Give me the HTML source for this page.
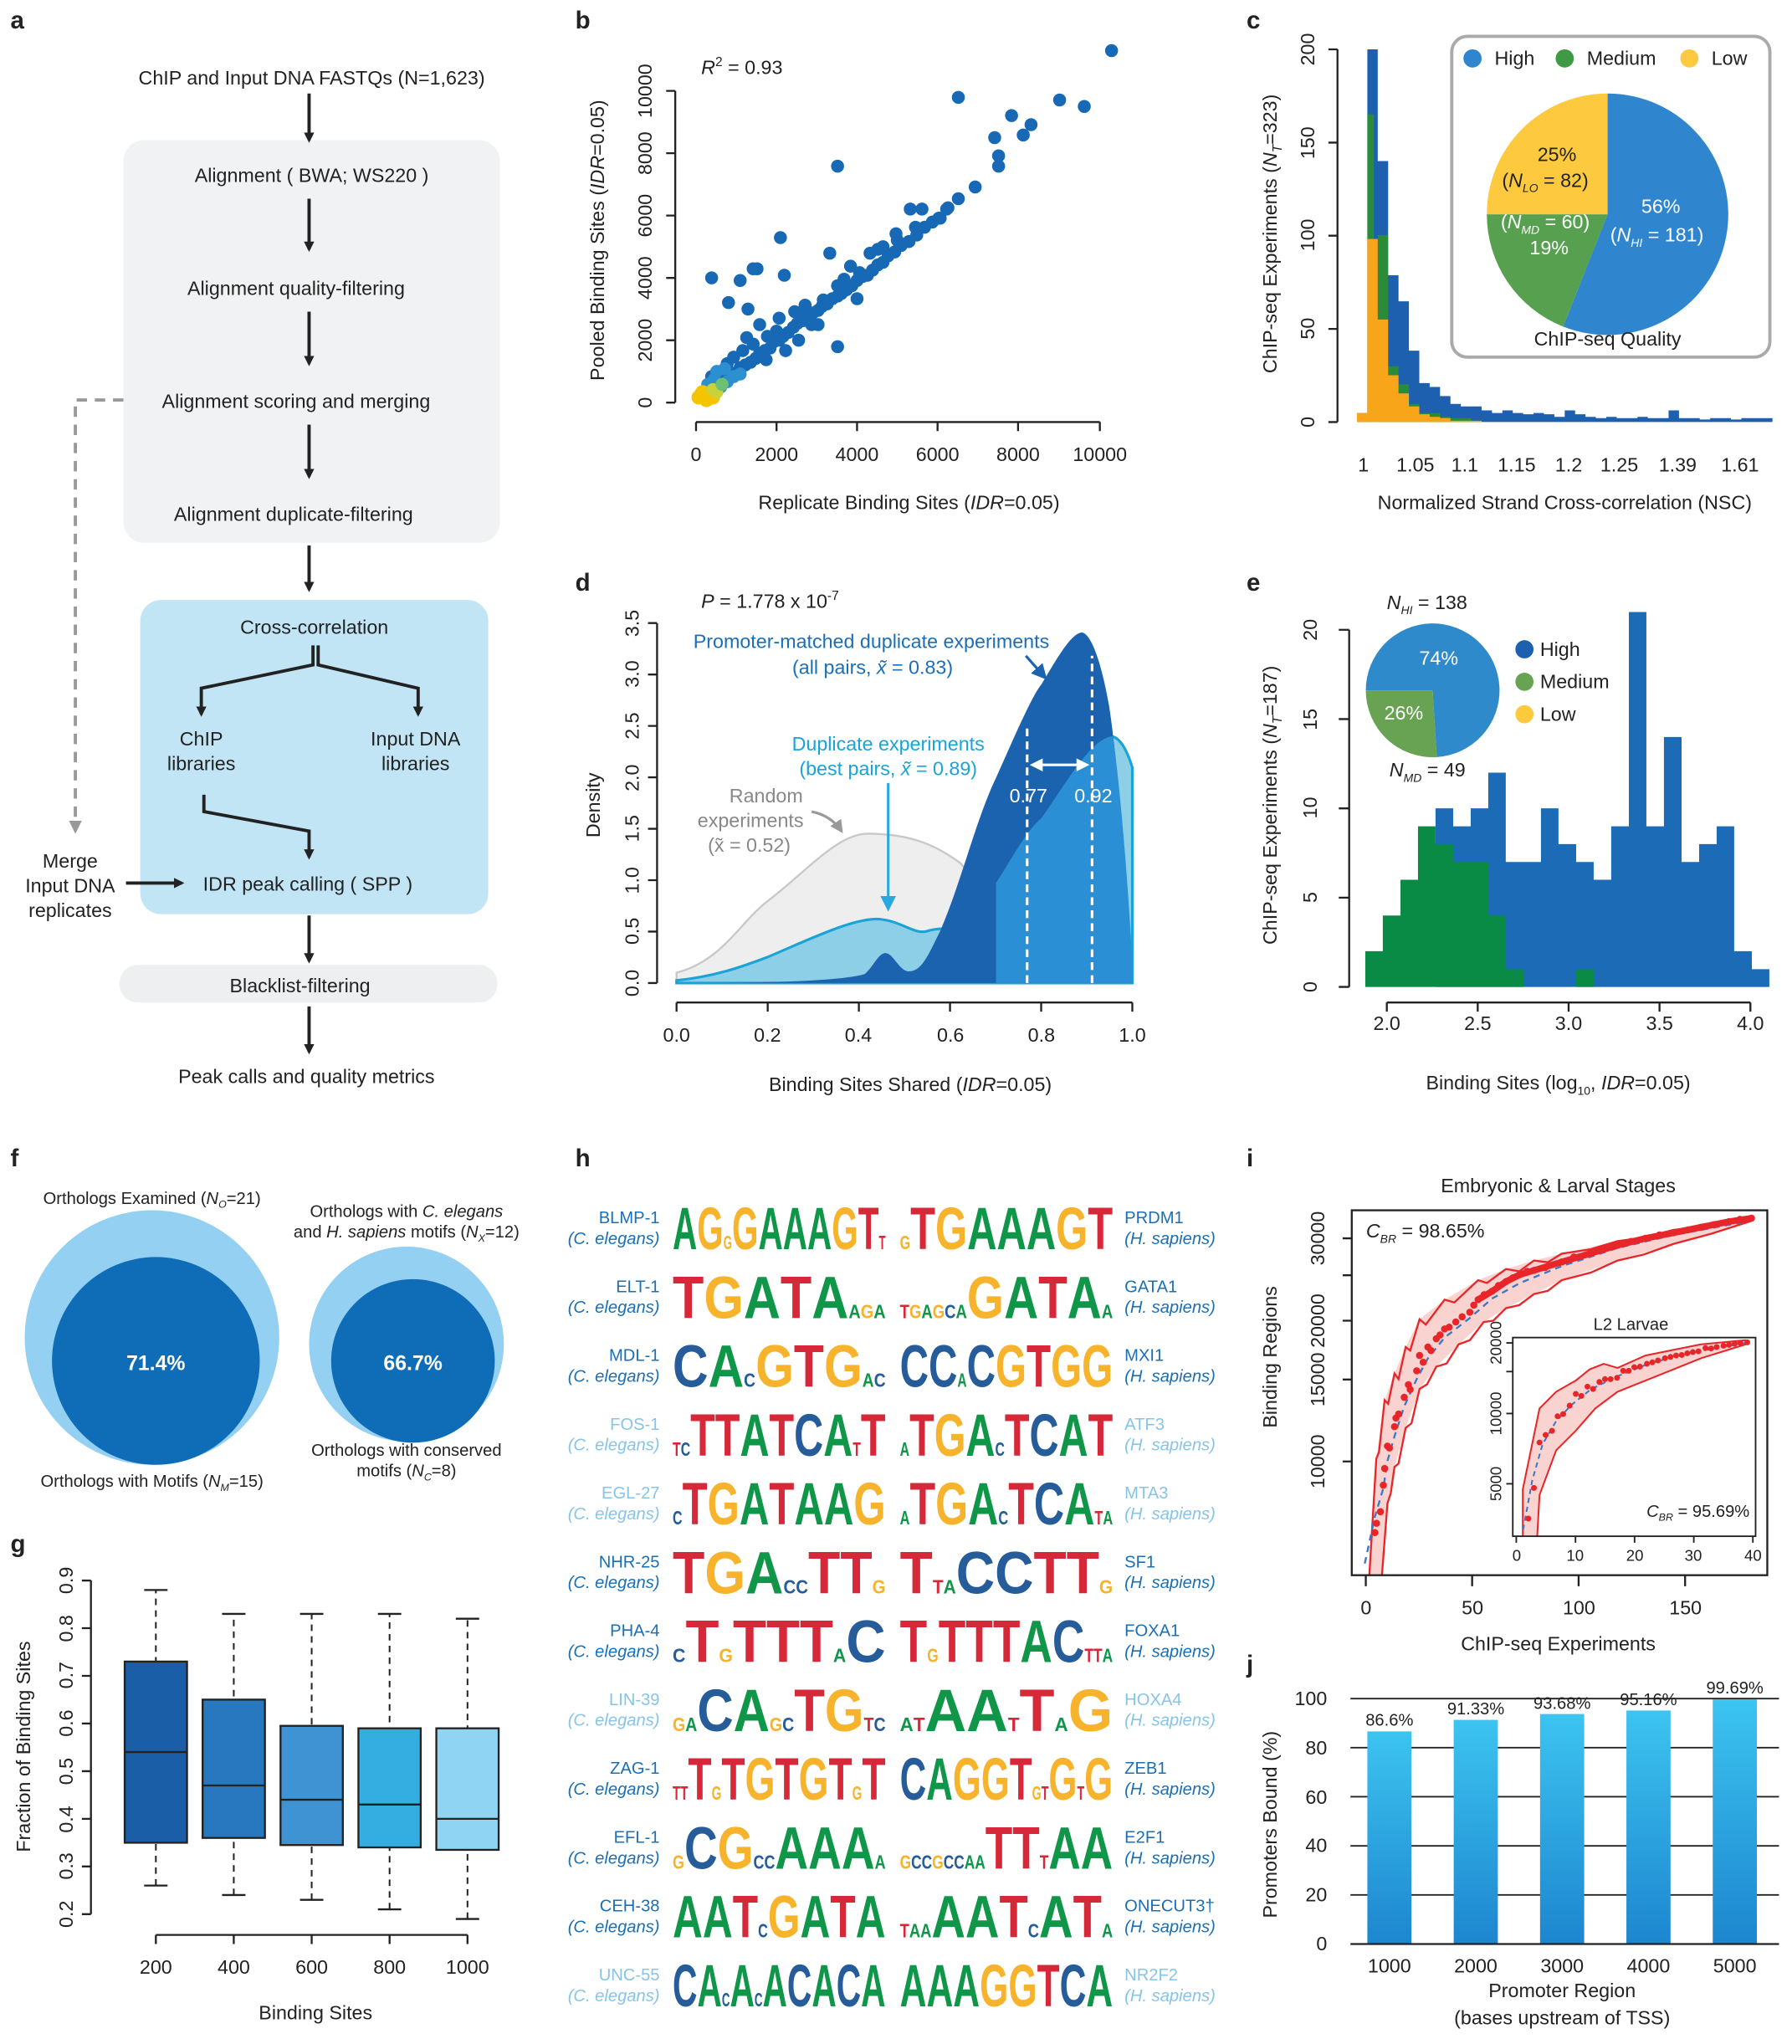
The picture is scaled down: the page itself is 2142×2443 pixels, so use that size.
<!DOCTYPE html>
<html><head><meta charset="utf-8"><style>
html,body{margin:0;padding:0;background:#fff}
svg{display:block}
text{font-family:"Liberation Sans",Arial,sans-serif;fill:#222}
.pl{font-weight:bold;font-size:19px}
.t{font-size:15px}
.w{fill:#fff}
.lg{font-weight:bold;font-size:46px}
.A{fill:#109648}.C{fill:#255c99}.G{fill:#f7b32b}.T{fill:#d62839}
.a{fill:#109648;font-size:15px}.c{fill:#255c99;font-size:15px}.g{fill:#f7b32b;font-size:15px}.t2{fill:#d62839;font-size:15px}
.dk{fill:#1a6fb5}.lt{fill:#86c4e8}
.rl{font-size:13px}
</style></head><body>
<svg xmlns="http://www.w3.org/2000/svg" width="2142" height="2443" viewBox="0 0 1380 1574">
<defs>
<marker id="ar" markerWidth="8" markerHeight="8" refX="6" refY="4" orient="auto" markerUnits="userSpaceOnUse"><path d="M0,0 L8,4 L0,8 Z" fill="#222"/></marker>
<marker id="arg" markerWidth="10" markerHeight="10" refX="8" refY="5" orient="auto" markerUnits="userSpaceOnUse"><path d="M0,0 L10,5 L0,10 Z" fill="#999"/></marker>
<marker id="arb" markerWidth="12" markerHeight="12" refX="10" refY="6" orient="auto" markerUnits="userSpaceOnUse"><path d="M0,0 L12,6 L0,12 Z" fill="#1a64b0"/></marker>
<marker id="arc" markerWidth="12" markerHeight="12" refX="10" refY="6" orient="auto" markerUnits="userSpaceOnUse"><path d="M0,0 L12,6 L0,12 Z" fill="#29a8e0"/></marker>
<marker id="arw" markerWidth="10" markerHeight="10" refX="8" refY="5" orient="auto-start-reverse" markerUnits="userSpaceOnUse"><path d="M0,0 L10,5 L0,10 Z" fill="#fff"/></marker>
<linearGradient id="jg" x1="0" y1="1" x2="0" y2="0"><stop offset="0" stop-color="#1d86cf"/><stop offset="1" stop-color="#3cc4f0"/></linearGradient>
</defs>

<!-- PANEL A -->
<text class="pl" x="8" y="22">a</text>
<g class="t" text-anchor="middle">
<text x="240" y="65">ChIP and Input DNA FASTQs (N=1,623)</text>
<rect x="95" y="108" width="290" height="310" rx="16" fill="#f1f2f3"/>
<text x="240" y="140">Alignment (  BWA; WS220 )</text>
<text x="228" y="227">Alignment quality-filtering</text>
<text x="228" y="314">Alignment scoring and merging</text>
<text x="226" y="401">Alignment duplicate-filtering</text>
<rect x="108" y="462" width="268" height="242" rx="16" fill="#c1e5f5"/>
<text x="242" y="488">Cross-correlation</text>
<text x="155" y="574">ChIP</text><text x="155" y="593">libraries</text>
<text x="320" y="574">Input DNA</text><text x="320" y="593">libraries</text>
<text x="237" y="686">IDR peak calling ( SPP )</text>
<text x="54" y="668">Merge</text><text x="54" y="687">Input DNA</text><text x="54" y="706">replicates</text>
<rect x="92" y="743" width="291" height="29" rx="14" fill="#eeeff0"/>
<text x="231" y="764">Blacklist-filtering</text>
<text x="236" y="834">Peak calls and quality metrics</text>
</g>
<g stroke="#222" stroke-width="2.5" fill="none" marker-end="url(#ar)">
<line x1="238" y1="72" x2="238" y2="108"/>
<line x1="238" y1="153" x2="238" y2="192"/>
<line x1="238" y1="240" x2="238" y2="280"/>
<line x1="238" y1="327" x2="238" y2="367"/>
<line x1="238" y1="420" x2="238" y2="454"/>
<polyline points="241,497 241,512 155,530 155,550"/>
<polyline points="245,497 245,512 322,530 322,550"/>
<polyline points="157,612 157,625 238,640 238,660"/>
<line x1="97" y1="680" x2="140" y2="680"/>
<line x1="238" y1="705" x2="238" y2="740"/>
<line x1="238" y1="775" x2="238" y2="810"/>
</g>
<polyline points="95,308 58,308 58,640" stroke="#999" stroke-width="2.5" stroke-dasharray="8,6" fill="none" marker-end="url(#arg)"/>

<!-- PANEL B -->
<text class="pl" x="443" y="22">b</text>
<path stroke="#1769b5" stroke-width="10" stroke-linecap="round" fill="none" d="M540 303h0M548 297h0M556 292h0M563 287h0M566 288h0M570 283h0M574 281h0M578 279h0M582 276h0M585 272h0M589 270h0M593 268h0M596 263h0M600 262h0M603 259h0M607 256h0M611 252h0M614 249h0M618 247h0M622 246h0M626 241h0M630 239h0M633 236h0M637 234h0M641 230h0M645 228h0M648 226h0M652 223h0M656 220h0M660 216h0M664 213h0M668 212h0M672 208h0M676 204h0M680 202h0M684 197h0M689 194h0M694 189h0M700 186h0M706 181h0M712 175h0M718 171h0M724 168h0M730 160h0M738 153h0M548 290h0M560 280h0M572 270h0M590 277h0M605 270h0M615 262h0M630 250h0M645 220h0M660 230h0M575 260h0M585 250h0M620 235h0M600 245h0M655 205h0M690 180h0M705 175h0M680 190h0M650 215h0M625 250h0M612 240h0M598 255h0M565 275h0M580 265h0M856 39h0M738 75h0M816 77h0M835 82h0M779 89h0M788 104h0M794 96h0M645 128h0M766 106h0M769 120h0M769 128h0M710 161h0M701 161h0M580 207h0M583 207h0M570 216h0M548 214h0M601 183h0M645 267h0M604 212h0M723 168h0M707 176h0M670 195h0M576 238h0M639 195h0M561 233h0M729 161h0M676 192h0M691 185h0M751 144h0M591 259h0M618 243h0M634 231h0M662 210h0"/>
<path stroke="#2b8fd0" stroke-width="10" stroke-linecap="round" fill="none" d="M545 296h0M550 292h0M555 298h0M560 294h0M565 290h0M570 288h0M552 286h0M558 284h0"/>
<path stroke="#f5c400" stroke-width="11" stroke-linecap="round" fill="none" d="M538 306h0M542 305h0M541 302h0M546 303h0M544 308h0M549 306h0"/>
<path stroke="#c9d23a" stroke-width="10" stroke-linecap="round" fill="none" d="M549 300h0M552 302h0"/>
<path stroke="#6dc072" stroke-width="10" stroke-linecap="round" fill="none" d="M556 296h0"/>
<g stroke="#222" stroke-width="1.5">
<line x1="536" y1="325" x2="847" y2="325"/>
<line x1="520" y1="310" x2="520" y2="70"/>
<path d="M536 325v7M598 325v7M660 325v7M722 325v7M784 325v7M847 325v7M520 310h-7M520 262h-7M520 214h-7M520 166h-7M520 118h-7M520 70h-7"/>
</g>
<g class="t" text-anchor="middle">
<text x="536" y="355">0</text><text x="598" y="355">2000</text><text x="660" y="355">4000</text><text x="722" y="355">6000</text><text x="784" y="355">8000</text><text x="847" y="355">10000</text>
<text transform="translate(502,310) rotate(-90)">0</text><text transform="translate(502,262) rotate(-90)">2000</text><text transform="translate(502,214) rotate(-90)">4000</text><text transform="translate(502,166) rotate(-90)">6000</text><text transform="translate(502,118) rotate(-90)">8000</text><text transform="translate(502,70) rotate(-90)">10000</text>
</g>
<text x="540" y="57" font-size="15"><tspan font-style="italic">R</tspan><tspan font-size="10" dy="-6">2</tspan><tspan dy="6"> = 0.93</tspan></text>
<text x="700" y="392" class="t" text-anchor="middle">Replicate Binding Sites (<tspan font-style="italic">IDR</tspan>=0.05)</text>
<text transform="translate(465,185) rotate(-90)" class="t" text-anchor="middle">Pooled Binding Sites (<tspan font-style="italic">IDR</tspan>=0.05)</text>

<!-- PANEL C -->
<text class="pl" x="960" y="22">c</text>
<path fill="#1d60b0" d="M1045,325 V318 H1053 V38 H1061 V124 H1069 V212 H1077 V232 H1085 V270 H1093 V295 H1101 V298 H1109 V305 H1117 V311 H1125 V313 H1141 V316 H1149 V318 H1157 V316 H1165 V318 H1173 V319 H1181 V318 H1189 V319 H1197 V321 H1205 V316 H1213 V319 H1221 V321 H1229 V322 H1237 V321 H1245 V322 H1261 V321 H1269 V322 H1285 V316 H1293 V322 H1309 V323 H1317 V322 H1333 V323 H1341 V322 H1365 V325 Z"/>
<path fill="#2a8c3a" d="M1045,325 V321 H1053 V88 H1058 V325 Z M1061,325 V181 H1069 V282 H1077 V296 H1085 V311 H1093 V318 H1109 V321 H1117 V322 H1133 V324 H1141 V325 Z"/>
<path fill="#f9a51a" d="M1045,325 V318 H1053 V184 H1061 V246 H1069 V289 H1077 V303 H1085 V313 H1093 V319 H1101 V321 H1109 V322 H1117 V324 H1141 V325 Z"/>
<line x1="1030" y1="325" x2="1030" y2="38" stroke="#222" stroke-width="1.5"/>
<path stroke="#222" stroke-width="1.5" d="M1030 325h-7M1030 253.3h-7M1030 181.5h-7M1030 109.8h-7M1030 38h-7"/>
<g class="t" text-anchor="middle">
<text transform="translate(1012,325) rotate(-90)">0</text><text transform="translate(1012,253) rotate(-90)">50</text><text transform="translate(1012,181) rotate(-90)">100</text><text transform="translate(1012,110) rotate(-90)">150</text><text transform="translate(1012,38) rotate(-90)">200</text>
<text x="1050" y="363">1</text><text x="1090" y="363">1.05</text><text x="1128" y="363">1.1</text><text x="1168" y="363">1.15</text><text x="1208" y="363">1.2</text><text x="1247" y="363">1.25</text><text x="1292" y="363">1.39</text><text x="1340" y="363">1.61</text>
</g>
<text x="1205" y="392" class="t" text-anchor="middle">Normalized Strand Cross-correlation (NSC)</text>
<text transform="translate(983,180) rotate(-90)" class="t" text-anchor="middle">ChIP-seq Experiments (<tspan font-style="italic">N</tspan><tspan font-size="10" dy="4" font-style="italic">T</tspan><tspan dy="-4">=323)</tspan></text>
<rect x="1118" y="28" width="245" height="247" rx="12" fill="#fff" stroke="#aaa" stroke-width="2.5"/>
<path d="M1238,165 L1238,72 A93,93 0 1 1 1203.8,251.5 Z" fill="#2f86cf"/>
<path d="M1238,165 L1203.8,251.5 A93,93 0 0 1 1145,165 Z" fill="#56a050"/>
<path d="M1238,165 L1145,165 A93,93 0 0 1 1238,72 Z" fill="#fcc93f"/>
<g font-size="15">
<circle cx="1134" cy="45" r="7" fill="#2f86cf"/><text x="1151" y="50">High</text>
<circle cx="1205" cy="45" r="7" fill="#3e9a45"/><text x="1222" y="50">Medium</text>
<circle cx="1301" cy="45" r="7" fill="#fcc93f"/><text x="1318" y="50">Low</text>
</g>
<g font-size="15" text-anchor="middle">
<text x="1199" y="124">25%</text><text x="1190" y="144">(<tspan font-style="italic">N</tspan><tspan font-size="9" dy="4" font-style="italic">LO</tspan><tspan dy="-4"> = 82)</tspan></text>
<text class="w" x="1190" y="176">(<tspan class="w" font-style="italic">N</tspan><tspan class="w" font-size="9" dy="4" font-style="italic">MD</tspan><tspan class="w" dy="-4"> = 60)</tspan></text>
<text class="w" x="1193" y="196">19%</text>
<text class="w" x="1279" y="164">56%</text>
<text class="w" x="1276" y="186">(<tspan class="w" font-style="italic">N</tspan><tspan class="w" font-size="9" dy="4" font-style="italic">HI</tspan><tspan class="w" dy="-4"> = 181)</tspan></text>
<text x="1238" y="266">ChIP-seq Quality</text>
</g>

<!-- PANEL D -->
<text class="pl" x="443" y="455">d</text>
<path d="M521,757 L521,749 C556,740 570,710 591,694 C620,672 645,642 668,642 C700,642 720,650 740,665 C760,690 780,720 802,753 L802,757 Z" fill="#eeeeee" stroke="#c8c8c8" stroke-width="1.5"/>
<path d="M521,757 L521,755 C550,752 570,745 591,737 C620,725 660,705 679,708 C695,710 705,720 714,717 C730,712 740,720 749,710 C770,690 785,650 802,630 C820,605 840,568 854,567 C862,566 868,578 872,591 L872,757 Z" fill="#8ccfe6" stroke="#1aa3d8" stroke-width="2"/>
<path d="M521,757 C600,757 650,755 666,750 C672,745 676,735 681,734 C688,733 692,748 700,748 C710,748 715,735 724,717 C740,680 752,630 767,599 C780,570 795,535 802,527 C815,505 825,488 833,487 C842,488 850,520 854,543 C860,580 866,660 872,740 L872,757 Z" fill="#1b63ae"/>
<path d="M767,757 L767,680 C780,660 790,640 802,630 C820,605 840,568 857,567 C862,600 868,670 872,740 L872,757 Z" fill="#2a8fd4"/>
<line x1="791" y1="757" x2="791" y2="560" stroke="#fff" stroke-width="2" stroke-dasharray="6,4"/>
<line x1="841" y1="757" x2="841" y2="505" stroke="#fff" stroke-width="2" stroke-dasharray="6,4"/>
<line x1="795" y1="589" x2="837" y2="589" stroke="#fff" stroke-width="2" marker-start="url(#arw)" marker-end="url(#arw)"/>
<text class="w" x="792" y="618" font-size="15" text-anchor="middle">0.77</text>
<text class="w" x="842" y="618" font-size="15" text-anchor="middle">0.92</text>
<line x1="506" y1="757" x2="506" y2="480" stroke="#222" stroke-width="1.5"/>
<line x1="521" y1="772" x2="872" y2="772" stroke="#222" stroke-width="1.5"/>
<path stroke="#222" stroke-width="1.5" d="M506 757h-7M506 717.4h-7M506 677.8h-7M506 638.2h-7M506 598.6h-7M506 559h-7M506 519.4h-7M506 479.8h-7M521 772v7M591.2 772v7M661.4 772v7M731.6 772v7M801.8 772v7M872 772v7"/>
<g class="t" text-anchor="middle">
<text transform="translate(492,757) rotate(-90)">0.0</text><text transform="translate(492,717) rotate(-90)">0.5</text><text transform="translate(492,678) rotate(-90)">1.0</text><text transform="translate(492,638) rotate(-90)">1.5</text><text transform="translate(492,599) rotate(-90)">2.0</text><text transform="translate(492,559) rotate(-90)">2.5</text><text transform="translate(492,519) rotate(-90)">3.0</text><text transform="translate(492,480) rotate(-90)">3.5</text>
<text x="521" y="802">0.0</text><text x="591" y="802">0.2</text><text x="661" y="802">0.4</text><text x="732" y="802">0.6</text><text x="802" y="802">0.8</text><text x="872" y="802">1.0</text>
</g>
<text x="540" y="468" font-size="15"><tspan font-style="italic">P</tspan> = 1.778 x 10<tspan font-size="10" dy="-6">-7</tspan></text>
<text x="671" y="499" font-size="15" text-anchor="middle" style="fill:#1b6fb8">Promoter-matched duplicate experiments</text>
<text x="672" y="519" font-size="15" text-anchor="middle" style="fill:#1b6fb8">(all pairs, <tspan style="fill:#1b6fb8" font-style="italic">x̃</tspan> = 0.83)</text>
<text x="684" y="578" font-size="15" text-anchor="middle" style="fill:#1aa3d8">Duplicate experiments</text>
<text x="684" y="597" font-size="15" text-anchor="middle" style="fill:#1aa3d8">(best pairs, <tspan style="fill:#1aa3d8" font-style="italic">x̃</tspan> = 0.89)</text>
<g font-size="15" text-anchor="middle">
<text x="590" y="618" style="fill:#888">Random</text><text x="578" y="637" style="fill:#888">experiments</text><text x="577" y="656" style="fill:#888">(x̃ = 0.52)</text></g>
<line x1="790" y1="505" x2="805" y2="522" stroke="#1a64b0" stroke-width="2" marker-end="url(#arb)"/>
<line x1="684" y1="603" x2="684" y2="700" stroke="#29a8e0" stroke-width="2" marker-end="url(#arc)"/>
<path d="M625,625 Q640,628 648,640" stroke="#999" stroke-width="2" fill="none" marker-end="url(#arg)"/>
<text x="701" y="840" class="t" text-anchor="middle">Binding Sites Shared (<tspan font-style="italic">IDR</tspan>=0.05)</text>
<text transform="translate(462,620) rotate(-90)" class="t" text-anchor="middle">Density</text>

<!-- PANEL E -->
<text class="pl" x="960" y="455">e</text>
<path fill="#1b6bb6" d="M1105.5,760 V622.5 H1119.1 V636.3 H1132.6 V622.5 H1146.1 V595 H1159.6 V663.8 H1186.7 V622.5 H1200.2 V650 H1213.8 V663.8 H1227.3 V677.5 H1240.8 V636.3 H1254.4 V471.3 H1267.9 V636.3 H1281.4 V567.5 H1295 V663.8 H1308.5 V650 H1322 V636.3 H1335.5 V732.5 H1349.1 V746.3 H1362.6 V760 Z"/>
<path fill="#098a45" d="M1051.4,760 V732.5 H1064.9 V705 H1078.5 V677.5 H1092 V636.3 H1105.5 V650 H1119.1 V663.8 H1146.1 V705 H1159.6 V746.3 H1173.2 V760 Z M1213.8,760 V746.3 H1227.3 V760 Z"/>
<line x1="1039" y1="760" x2="1039" y2="485" stroke="#222" stroke-width="1.5"/>
<line x1="1068" y1="772" x2="1348" y2="772" stroke="#222" stroke-width="1.5"/>
<path stroke="#222" stroke-width="1.5" d="M1039 760h-8M1039 691.25h-8M1039 622.5h-8M1039 553.75h-8M1039 485h-8M1068 772v7M1138 772v7M1208 772v7M1278 772v7M1348 772v7"/>
<g class="t" text-anchor="middle">
<text transform="translate(1014,760) rotate(-90)">0</text><text transform="translate(1014,691) rotate(-90)">5</text><text transform="translate(1014,622) rotate(-90)">10</text><text transform="translate(1014,554) rotate(-90)">15</text><text transform="translate(1014,485) rotate(-90)">20</text>
<text x="1068" y="793">2.0</text><text x="1138" y="793">2.5</text><text x="1208" y="793">3.0</text><text x="1278" y="793">3.5</text><text x="1348" y="793">4.0</text>
</g>
<path d="M1103.3,531.6 L1051.8,531.6 A51.5,51.5 0 1 1 1106.5,583 Z" fill="#2f8acc"/>
<path d="M1103.3,531.6 L1106.5,583 A51.5,51.5 0 0 1 1051.8,531.6 Z" fill="#68a253"/>
<text class="w" x="1108" y="512" font-size="15" text-anchor="middle">74%</text>
<text class="w" x="1081" y="554" font-size="15" text-anchor="middle">26%</text>
<text x="1068" y="469" font-size="15"><tspan font-style="italic">N</tspan><tspan font-size="9" dy="4" font-style="italic">HI</tspan><tspan dy="-4"> = 138</tspan></text>
<text x="1070" y="598" font-size="15"><tspan font-style="italic">N</tspan><tspan font-size="9" dy="4" font-style="italic">MD</tspan><tspan dy="-4"> = 49</tspan></text>
<g font-size="15">
<circle cx="1174" cy="500" r="7" fill="#1d60b0"/><text x="1186" y="505">High</text>
<circle cx="1174" cy="525" r="7" fill="#68a253"/><text x="1186" y="530">Medium</text>
<circle cx="1174" cy="550" r="7" fill="#fcc93f"/><text x="1186" y="555">Low</text>
</g>
<text x="1200" y="839" class="t" text-anchor="middle">Binding Sites (log<tspan font-size="9" dy="4">10</tspan><tspan dy="-4">, </tspan><tspan font-style="italic">IDR</tspan>=0.05)</text>
<text transform="translate(983,620) rotate(-90)" class="t" text-anchor="middle">ChIP-seq Experiments (<tspan font-style="italic">N</tspan><tspan font-size="10" dy="4" font-style="italic">T</tspan><tspan dy="-4">=187)</tspan></text>

<!-- PANEL F -->
<text class="pl" x="8" y="898">f</text>
<circle cx="117" cy="1030" r="98" fill="#93d0f1"/>
<circle cx="120" cy="1048" r="80" fill="#0f6db8"/>
<circle cx="313" cy="1035" r="75" fill="#93d0f1"/>
<circle cx="318" cy="1048" r="63" fill="#0f6db8"/>
<text class="w" x="120" y="1055" font-size="16" font-weight="bold" text-anchor="middle">71.4%</text>
<text class="w" x="318" y="1055" font-size="16" font-weight="bold" text-anchor="middle">66.7%</text>
<g font-size="13" text-anchor="middle">
<text x="117" y="927">Orthologs Examined (<tspan font-style="italic">N</tspan><tspan font-size="8" dy="3" font-style="italic">O</tspan><tspan dy="-3">=21)</tspan></text>
<text x="117" y="1145">Orthologs with Motifs (<tspan font-style="italic">N</tspan><tspan font-size="8" dy="3" font-style="italic">M</tspan><tspan dy="-3">=15)</tspan></text>
<text x="313" y="937">Orthologs with <tspan font-style="italic">C. elegans</tspan></text>
<text x="313" y="953">and <tspan font-style="italic">H. sapiens</tspan> motifs (<tspan font-style="italic">N</tspan><tspan font-size="8" dy="3" font-style="italic">X</tspan><tspan dy="-3">=12)</tspan></text>
<text x="313" y="1121">Orthologs with conserved</text>
<text x="313" y="1137">motifs (<tspan font-style="italic">N</tspan><tspan font-size="8" dy="3" font-style="italic">C</tspan><tspan dy="-3">=8)</tspan></text>
</g>

<!-- PANEL G -->
<text class="pl" x="8" y="1195">g</text>
<g stroke="#222" stroke-width="1.3" stroke-dasharray="5,4">
<path d="M120 1452V1224.4M180 1459.3V1242.8M240 1463V1242.8M300 1470.3V1242.8M360 1477.7V1246.5"/>
</g>
<g stroke="#222" stroke-width="1.5">
<path d="M111 1452h18M111 1224.4h18M171 1459.3h18M171 1242.8h18M231 1463h18M231 1242.8h18M291 1470.3h18M291 1242.8h18M351 1477.7h18M351 1246.5h18"/>
<rect x="96" y="1279.5" width="48" height="139.5" fill="#1a5ea8"/>
<rect x="156" y="1308.8" width="48" height="106.5" fill="#2878c0"/>
<rect x="216" y="1329" width="48" height="91.8" fill="#3f93d2"/>
<rect x="276" y="1330.9" width="48" height="91.7" fill="#34ade0"/>
<rect x="336" y="1330.9" width="48" height="93.6" fill="#8fd4f3"/>
<path d="M96 1349.2h48M156 1374.9h48M216 1385.9h48M276 1389.6h48M336 1400.6h48"/>
<line x1="70" y1="1474" x2="70" y2="1217"/>
<line x1="120" y1="1490" x2="360" y2="1490"/>
<path d="M70 1474h-7M70 1437.3h-7M70 1400.6h-7M70 1363.9h-7M70 1327.2h-7M70 1290.5h-7M70 1253.8h-7M70 1217.1h-7M120 1490v7M180 1490v7M240 1490v7M300 1490v7M360 1490v7"/>
</g>
<g class="t" text-anchor="middle">
<text transform="translate(56,1474) rotate(-90)">0.2</text><text transform="translate(56,1437) rotate(-90)">0.3</text><text transform="translate(56,1401) rotate(-90)">0.4</text><text transform="translate(56,1364) rotate(-90)">0.5</text><text transform="translate(56,1327) rotate(-90)">0.6</text><text transform="translate(56,1290) rotate(-90)">0.7</text><text transform="translate(56,1254) rotate(-90)">0.8</text><text transform="translate(56,1217) rotate(-90)">0.9</text>
<text x="120" y="1520">200</text><text x="180" y="1520">400</text><text x="240" y="1520">600</text><text x="300" y="1520">800</text><text x="360" y="1520">1000</text>
</g>
<text x="243" y="1555" class="t" text-anchor="middle">Binding Sites</text>
<text transform="translate(23,1345) rotate(-90)" class="t" text-anchor="middle">Fraction of Binding Sites</text>

<!-- PANEL H -->
<text class="pl" x="443" y="898">h</text>
<g class="rl" text-anchor="end">
<text class="dk" x="508" y="942">BLMP-1</text><text class="dk" x="508" y="958" font-style="italic">(C. elegans)</text>
<text class="dk" x="508" y="995">ELT-1</text><text class="dk" x="508" y="1011" font-style="italic">(C. elegans)</text>
<text class="dk" x="508" y="1048">MDL-1</text><text class="dk" x="508" y="1064" font-style="italic">(C. elegans)</text>
<text class="lt" x="508" y="1101">FOS-1</text><text class="lt" x="508" y="1117" font-style="italic">(C. elegans)</text>
<text class="lt" x="508" y="1154">EGL-27</text><text class="lt" x="508" y="1170" font-style="italic">(C. elegans)</text>
<text class="dk" x="508" y="1207">NHR-25</text><text class="dk" x="508" y="1223" font-style="italic">(C. elegans)</text>
<text class="dk" x="508" y="1260">PHA-4</text><text class="dk" x="508" y="1276" font-style="italic">(C. elegans)</text>
<text class="lt" x="508" y="1313">LIN-39</text><text class="lt" x="508" y="1329" font-style="italic">(C. elegans)</text>
<text class="dk" x="508" y="1366">ZAG-1</text><text class="dk" x="508" y="1382" font-style="italic">(C. elegans)</text>
<text class="dk" x="508" y="1419">EFL-1</text><text class="dk" x="508" y="1435" font-style="italic">(C. elegans)</text>
<text class="dk" x="508" y="1472">CEH-38</text><text class="dk" x="508" y="1488" font-style="italic">(C. elegans)</text>
<text class="lt" x="508" y="1525">UNC-55</text><text class="lt" x="508" y="1541" font-style="italic">(C. elegans)</text>
</g>
<g class="rl">
<text class="dk" x="866" y="942">PRDM1</text><text class="dk" x="866" y="958" font-style="italic">(H. sapiens)</text>
<text class="dk" x="866" y="995">GATA1</text><text class="dk" x="866" y="1011" font-style="italic">(H. sapiens)</text>
<text class="dk" x="866" y="1048">MXI1</text><text class="dk" x="866" y="1064" font-style="italic">(H. sapiens)</text>
<text class="lt" x="866" y="1101">ATF3</text><text class="lt" x="866" y="1117" font-style="italic">(H. sapiens)</text>
<text class="lt" x="866" y="1154">MTA3</text><text class="lt" x="866" y="1170" font-style="italic">(H. sapiens)</text>
<text class="dk" x="866" y="1207">SF1</text><text class="dk" x="866" y="1223" font-style="italic">(H. sapiens)</text>
<text class="dk" x="866" y="1260">FOXA1</text><text class="dk" x="866" y="1276" font-style="italic">(H. sapiens)</text>
<text class="lt" x="866" y="1313">HOXA4</text><text class="lt" x="866" y="1329" font-style="italic">(H. sapiens)</text>
<text class="dk" x="866" y="1366">ZEB1</text><text class="dk" x="866" y="1382" font-style="italic">(H. sapiens)</text>
<text class="dk" x="866" y="1419">E2F1</text><text class="dk" x="866" y="1435" font-style="italic">(H. sapiens)</text>
<text class="dk" x="866" y="1472">ONECUT3†</text><text class="dk" x="866" y="1488" font-style="italic">(H. sapiens)</text>
<text class="lt" x="866" y="1525">NR2F2</text><text class="lt" x="866" y="1541" font-style="italic">(H. sapiens)</text>
</g>
<g class="lg">
<text x="518" y="962" textLength="164" lengthAdjust="spacingAndGlyphs"><tspan class="A">A</tspan><tspan class="G">G</tspan><tspan class="g">G</tspan><tspan class="G">G</tspan><tspan class="A">A</tspan><tspan class="A">A</tspan><tspan class="A">A</tspan><tspan class="G">G</tspan><tspan class="T">T</tspan><tspan class="t2">T</tspan></text>
<text x="693" y="962" textLength="164" lengthAdjust="spacingAndGlyphs"><tspan class="g">G</tspan><tspan class="T">T</tspan><tspan class="G">G</tspan><tspan class="A">A</tspan><tspan class="A">A</tspan><tspan class="A">A</tspan><tspan class="G">G</tspan><tspan class="T">T</tspan></text>
<text x="518" y="1015" textLength="164" lengthAdjust="spacingAndGlyphs"><tspan class="T">T</tspan><tspan class="G">G</tspan><tspan class="A">A</tspan><tspan class="T">T</tspan><tspan class="A">A</tspan><tspan class="a">A</tspan><tspan class="g">G</tspan><tspan class="a">A</tspan></text>
<text x="693" y="1015" textLength="164" lengthAdjust="spacingAndGlyphs"><tspan class="t2">T</tspan><tspan class="g">G</tspan><tspan class="a">A</tspan><tspan class="g">G</tspan><tspan class="c">C</tspan><tspan class="a">A</tspan><tspan class="G">G</tspan><tspan class="A">A</tspan><tspan class="T">T</tspan><tspan class="A">A</tspan><tspan class="a">A</tspan></text>
<text x="518" y="1068" textLength="164" lengthAdjust="spacingAndGlyphs"><tspan class="C">C</tspan><tspan class="A">A</tspan><tspan class="c">C</tspan><tspan class="G">G</tspan><tspan class="T">T</tspan><tspan class="G">G</tspan><tspan class="a">A</tspan><tspan class="c">C</tspan></text>
<text x="693" y="1068" textLength="164" lengthAdjust="spacingAndGlyphs"><tspan class="C">C</tspan><tspan class="C">C</tspan><tspan class="a">A</tspan><tspan class="C">C</tspan><tspan class="G">G</tspan><tspan class="T">T</tspan><tspan class="G">G</tspan><tspan class="G">G</tspan></text>
<text x="518" y="1121" textLength="164" lengthAdjust="spacingAndGlyphs"><tspan class="t2">T</tspan><tspan class="c">C</tspan><tspan class="T">T</tspan><tspan class="T">T</tspan><tspan class="A">A</tspan><tspan class="T">T</tspan><tspan class="C">C</tspan><tspan class="A">A</tspan><tspan class="t2">T</tspan><tspan class="T">T</tspan></text>
<text x="693" y="1121" textLength="164" lengthAdjust="spacingAndGlyphs"><tspan class="a">A</tspan><tspan class="T">T</tspan><tspan class="G">G</tspan><tspan class="A">A</tspan><tspan class="c">C</tspan><tspan class="T">T</tspan><tspan class="C">C</tspan><tspan class="A">A</tspan><tspan class="T">T</tspan></text>
<text x="518" y="1174" textLength="164" lengthAdjust="spacingAndGlyphs"><tspan class="c">C</tspan><tspan class="T">T</tspan><tspan class="G">G</tspan><tspan class="A">A</tspan><tspan class="T">T</tspan><tspan class="A">A</tspan><tspan class="A">A</tspan><tspan class="G">G</tspan></text>
<text x="693" y="1174" textLength="164" lengthAdjust="spacingAndGlyphs"><tspan class="a">A</tspan><tspan class="T">T</tspan><tspan class="G">G</tspan><tspan class="A">A</tspan><tspan class="c">C</tspan><tspan class="T">T</tspan><tspan class="C">C</tspan><tspan class="A">A</tspan><tspan class="t2">T</tspan><tspan class="a">A</tspan></text>
<text x="518" y="1227" textLength="164" lengthAdjust="spacingAndGlyphs"><tspan class="T">T</tspan><tspan class="G">G</tspan><tspan class="A">A</tspan><tspan class="c">C</tspan><tspan class="c">C</tspan><tspan class="T">T</tspan><tspan class="T">T</tspan><tspan class="g">G</tspan></text>
<text x="693" y="1227" textLength="164" lengthAdjust="spacingAndGlyphs"><tspan class="T">T</tspan><tspan class="t2">T</tspan><tspan class="a">A</tspan><tspan class="C">C</tspan><tspan class="C">C</tspan><tspan class="T">T</tspan><tspan class="T">T</tspan><tspan class="g">G</tspan></text>
<text x="518" y="1280" textLength="164" lengthAdjust="spacingAndGlyphs"><tspan class="c">C</tspan><tspan class="T">T</tspan><tspan class="g">G</tspan><tspan class="T">T</tspan><tspan class="T">T</tspan><tspan class="T">T</tspan><tspan class="a">A</tspan><tspan class="C">C</tspan></text>
<text x="693" y="1280" textLength="164" lengthAdjust="spacingAndGlyphs"><tspan class="T">T</tspan><tspan class="g">G</tspan><tspan class="T">T</tspan><tspan class="T">T</tspan><tspan class="T">T</tspan><tspan class="A">A</tspan><tspan class="C">C</tspan><tspan class="t2">T</tspan><tspan class="t2">T</tspan><tspan class="a">A</tspan></text>
<text x="518" y="1333" textLength="164" lengthAdjust="spacingAndGlyphs"><tspan class="g">G</tspan><tspan class="a">A</tspan><tspan class="C">C</tspan><tspan class="A">A</tspan><tspan class="g">G</tspan><tspan class="c">C</tspan><tspan class="T">T</tspan><tspan class="G">G</tspan><tspan class="t2">T</tspan><tspan class="c">C</tspan></text>
<text x="693" y="1333" textLength="164" lengthAdjust="spacingAndGlyphs"><tspan class="a">A</tspan><tspan class="t2">T</tspan><tspan class="A">A</tspan><tspan class="A">A</tspan><tspan class="t2">T</tspan><tspan class="T">T</tspan><tspan class="a">A</tspan><tspan class="G">G</tspan></text>
<text x="518" y="1386" textLength="164" lengthAdjust="spacingAndGlyphs"><tspan class="t2">T</tspan><tspan class="t2">T</tspan><tspan class="T">T</tspan><tspan class="g">G</tspan><tspan class="T">T</tspan><tspan class="G">G</tspan><tspan class="T">T</tspan><tspan class="G">G</tspan><tspan class="T">T</tspan><tspan class="g">G</tspan><tspan class="T">T</tspan></text>
<text x="693" y="1386" textLength="164" lengthAdjust="spacingAndGlyphs"><tspan class="C">C</tspan><tspan class="A">A</tspan><tspan class="G">G</tspan><tspan class="G">G</tspan><tspan class="T">T</tspan><tspan class="g">G</tspan><tspan class="t2">T</tspan><tspan class="G">G</tspan><tspan class="t2">T</tspan><tspan class="G">G</tspan></text>
<text x="518" y="1439" textLength="164" lengthAdjust="spacingAndGlyphs"><tspan class="g">G</tspan><tspan class="C">C</tspan><tspan class="G">G</tspan><tspan class="c">C</tspan><tspan class="c">C</tspan><tspan class="A">A</tspan><tspan class="A">A</tspan><tspan class="A">A</tspan><tspan class="a">A</tspan></text>
<text x="693" y="1439" textLength="164" lengthAdjust="spacingAndGlyphs"><tspan class="g">G</tspan><tspan class="c">C</tspan><tspan class="c">C</tspan><tspan class="g">G</tspan><tspan class="c">C</tspan><tspan class="c">C</tspan><tspan class="a">A</tspan><tspan class="a">A</tspan><tspan class="T">T</tspan><tspan class="T">T</tspan><tspan class="t2">T</tspan><tspan class="A">A</tspan><tspan class="A">A</tspan></text>
<text x="518" y="1492" textLength="164" lengthAdjust="spacingAndGlyphs"><tspan class="A">A</tspan><tspan class="A">A</tspan><tspan class="T">T</tspan><tspan class="c">C</tspan><tspan class="G">G</tspan><tspan class="A">A</tspan><tspan class="T">T</tspan><tspan class="A">A</tspan></text>
<text x="693" y="1492" textLength="164" lengthAdjust="spacingAndGlyphs"><tspan class="t2">T</tspan><tspan class="a">A</tspan><tspan class="a">A</tspan><tspan class="A">A</tspan><tspan class="A">A</tspan><tspan class="T">T</tspan><tspan class="c">C</tspan><tspan class="A">A</tspan><tspan class="T">T</tspan><tspan class="a">A</tspan></text>
<text x="518" y="1545" textLength="164" lengthAdjust="spacingAndGlyphs"><tspan class="C">C</tspan><tspan class="A">A</tspan><tspan class="c">C</tspan><tspan class="A">A</tspan><tspan class="c">C</tspan><tspan class="A">A</tspan><tspan class="C">C</tspan><tspan class="A">A</tspan><tspan class="C">C</tspan><tspan class="A">A</tspan></text>
<text x="693" y="1545" textLength="164" lengthAdjust="spacingAndGlyphs"><tspan class="A">A</tspan><tspan class="A">A</tspan><tspan class="A">A</tspan><tspan class="G">G</tspan><tspan class="G">G</tspan><tspan class="T">T</tspan><tspan class="C">C</tspan><tspan class="A">A</tspan></text>
</g>

<!-- PANEL I -->
<text class="pl" x="960" y="898">i</text>
<text x="1200" y="918" class="t" text-anchor="middle">Embryonic &amp; Larval Stages</text>
<path fill="#f9d3cf" stroke="none" d="M1054.5,1213.5 L1059.9,1123.3 L1066.3,1078.2 L1073.9,1057.7 L1082.5,1037.3 L1093.2,1015.9 L1112.5,1000.8 L1138.3,985.8 L1159.8,977.2 L1181.3,970.7 L1202.7,965.4 L1245.7,955.7 L1288.7,947.1 L1348.8,936.4 L1348.8,940.2 L1288.7,957.9 L1245.7,970.7 L1202.7,985.8 L1181.3,996.5 L1159.8,1007.3 L1142.6,1018 L1123.3,1035.2 L1106.1,1052.4 L1093.2,1069.6 L1082.5,1099.6 L1073.9,1129.7 L1068.5,1157.6 L1064.2,1213.5 Z"/>
<g fill="none" stroke="#e8262a" stroke-width="1.5">
<polyline points="1054.5,1213.5 1059.9,1123.3 1062,1118 1066.3,1078.2 1069,1081 1073.9,1057.7 1077,1062 1082.5,1037.3 1086,1040 1093.2,1015.9 1098,1020 1112.5,1000.8 1120,1003 1138.3,985.8 1145,988 1159.8,977.2 1170,979 1181.3,970.7 1192,972 1202.7,965.4 1225,962 1245.7,955.7 1266,953 1288.7,947.1 1318,944 1348.8,936.4"/>
<polyline points="1064.2,1213.5 1068.5,1157.6 1071,1150 1073.9,1129.7 1077,1127 1082.5,1099.6 1087,1096 1093.2,1069.6 1099,1066 1106.1,1052.4 1114,1050 1123.3,1035.2 1132,1032 1142.6,1018 1150,1017 1159.8,1007.3 1170,1005 1181.3,996.5 1192,994 1202.7,985.8 1225,980 1245.7,970.7 1266,966 1288.7,957.9 1318,950 1348.8,940.2"/>
</g>
<polyline fill="none" stroke="#3a78c8" stroke-width="1.5" stroke-dasharray="5,4" points="1051,1204 1058.8,1168 1065.3,1146 1068.5,1125 1073.9,1106 1081.4,1083 1091,1062 1099.6,1046 1112.5,1030 1131.9,1015 1149,1000 1170.5,988 1202.7,975 1245.7,961 1288.7,951 1348.8,940"/>
<polyline fill="none" stroke="#e8262a" stroke-width="5" stroke-linejoin="round" points="1138.3,1000.8 1149,994.4 1159.8,986.9 1170.5,981.5 1181.3,978.3 1202.7,971.8 1224.2,965.4 1245.7,958.9 1267.2,953.6 1288.7,949.3 1310.1,945 1331.6,940.7 1348.8,938.1"/>
<path stroke="#e8262a" stroke-width="5.5" stroke-linecap="round" fill="none" d="M1058.8 1180.2h0M1060 1173h0M1063.1 1164.1h0M1065.3 1143.7h0M1066.3 1130.8h0M1068.5 1113.6h0M1070 1115h0M1073.9 1098.6h0M1077.1 1088.9h0M1075 1092h0M1081.4 1076h0M1084.6 1066.3h0M1086 1070h0M1091 1055.6h0M1093.2 1043.8h0M1096 1049h0M1099.6 1037.3h0M1102 1040h0M1106.1 1030.9h0M1109 1028h0M1112.5 1023.4h0M1116 1022h0M1121.1 1018h0M1126 1014h0M1131.9 1010.5h0M1135 1005h0M1138.3 1000.8h0M1143 997h0M1149 994.4h0M1154 990h0M1159.8 986.9h0M1165 984h0M1170.5 981.5h0M1176 979h0M1181.3 978.3h0M1190 976h0M1202.7 971.8h0M1212 968h0M1224.2 965.4h0M1235 962h0M1245.7 958.9h0M1256 956h0M1267.2 953.6h0M1278 951h0M1288.7 949.3h0M1300 947h0M1310.1 945h0M1320 943h0M1331.6 940.7h0M1340 939h0M1348.8 938.1h0"/>
<rect x="1041" y="932" width="320" height="281" fill="none" stroke="#222" stroke-width="1.5"/>
<path stroke="#222" stroke-width="1.5" d="M1051.8 1213.5v8M1133.7 1213.5v8M1215.7 1213.5v8M1297.7 1213.5v8M1041 953.6h-7M1041 982h-7M1041 1017h-7M1041 1062.3h-7M1041 1125.4h-7"/>
<g class="t" text-anchor="middle">
<text x="1052" y="1243">0</text><text x="1134" y="1243">50</text><text x="1216" y="1243">100</text><text x="1298" y="1243">150</text>
<text transform="translate(1020,953.6) rotate(-90)">30000</text><text transform="translate(1020,1017) rotate(-90)">20000</text><text transform="translate(1020,1062.3) rotate(-90)">15000</text><text transform="translate(1020,1125.4) rotate(-90)">10000</text>
</g>
<text x="1052" y="953" font-size="15"><tspan font-style="italic">C</tspan><tspan font-size="9" dy="4" font-style="italic">BR</tspan><tspan dy="-4"> = 98.65%</tspan></text>
<!-- inset -->
<rect x="1165" y="1030" width="187" height="153" fill="#fff"/>
<path fill="#f9d3cf" d="M1172.7,1183.4 L1172.7,1146.9 L1185.6,1084.6 L1198.4,1071.7 L1213.5,1063.1 L1224.2,1054.5 L1235,1050.2 L1245.7,1053.4 L1267.2,1043.8 L1288.7,1039.5 L1310.1,1035.2 L1344.5,1032 L1344.5,1035.2 L1310.1,1045.9 L1288.7,1054.5 L1267.2,1063.1 L1245.7,1071.7 L1228.5,1084.6 L1213.5,1101.8 L1198.4,1116.8 L1185.6,1151.2 L1183.8,1183.4 Z"/>
<g fill="none" stroke="#e8262a" stroke-width="1.3">
<polyline points="1172.7,1183.4 1172.7,1146.9 1185.6,1084.6 1198.4,1071.7 1213.5,1063.1 1224.2,1054.5 1235,1050.2 1245.7,1053.4 1267.2,1043.8 1288.7,1039.5 1310.1,1035.2 1344.5,1032"/>
<polyline points="1183.8,1183.4 1185.6,1151.2 1198.4,1116.8 1213.5,1101.8 1228.5,1084.6 1245.7,1071.7 1267.2,1063.1 1288.7,1054.5 1310.1,1045.9 1344.5,1035.2"/>
</g>
<polyline fill="none" stroke="#3a78c8" stroke-width="1.3" stroke-dasharray="4,3" points="1173,1178 1180,1140 1188,1112 1198,1095 1210,1082 1225,1070 1245,1060 1270,1050 1300,1042 1345,1034"/>
<path stroke="#e8262a" stroke-width="4.5" stroke-linecap="round" fill="none" d="M1177 1169.4h0M1181.3 1145.8h0M1185.6 1110.8h0M1190.3 1105h0M1195.2 1101.8h0M1199.5 1090.6h0M1203.8 1088.9h0M1208.8 1082.4h0M1213.5 1073.4h0M1217.8 1074.9h0M1222.5 1067.8h0M1226.8 1069.6h0M1231.7 1064.2h0M1236 1062h0M1240.3 1062h0M1245.3 1061h0M1250 1055.6h0M1254.3 1055.6h0M1258.6 1052.8h0M1262.9 1052.4h0M1268.3 1050.2h0M1272.5 1049.1h0M1276.8 1047.6h0M1282.2 1045.9h0M1286.5 1044.9h0M1290.8 1043.8h0M1295.1 1043.4h0M1299.4 1042.1h0M1303.7 1041.2h0M1308 1040.6h0M1313.4 1038h0M1317.7 1038.4h0M1322 1037.3h0M1327.3 1036.3h0M1331.6 1035.6h0M1335.9 1034.8h0M1340.2 1034.1h0M1345.6 1033.7h0"/>
<rect x="1165" y="1030" width="187" height="153" fill="none" stroke="#222" stroke-width="1.2"/>
<path stroke="#222" stroke-width="1.2" d="M1167.7 1183v5M1213.3 1183v5M1258.8 1183v5M1304.4 1183v5M1349.9 1183v5M1165 1034.1h-5M1165 1056.2h-5M1165 1088.5h-5M1165 1142.6h-5"/>
<g font-size="12" text-anchor="middle">
<text x="1168" y="1202">0</text><text x="1213" y="1202">10</text><text x="1259" y="1202">20</text><text x="1304" y="1202">30</text><text x="1350" y="1202">40</text>
<text transform="translate(1156,1034) rotate(-90)">20000</text><text transform="translate(1156,1088.5) rotate(-90)">10000</text><text transform="translate(1156,1142.6) rotate(-90)">5000</text>
</g>
<text x="1256" y="1024" font-size="13" text-anchor="middle">L2 Larvae</text>
<text x="1268" y="1168" font-size="13"><tspan font-style="italic">C</tspan><tspan font-size="8" dy="3" font-style="italic">BR</tspan><tspan dy="-3"> = 95.69%</tspan></text>
<text x="1200" y="1271" class="t" text-anchor="middle">ChIP-seq Experiments</text>
<text transform="translate(983,1045) rotate(-90)" class="t" text-anchor="middle">Binding Regions</text>

<!-- PANEL J -->
<text class="pl" x="960" y="1288">j</text>
<g stroke="#222" stroke-width="1.2"><path d="M1040 1459.2H1370M1040 1421.4H1370M1040 1383.6H1370M1040 1345.8H1370M1040 1308H1370"/></g>
<rect x="1053" y="1333.3" width="34" height="163.7" fill="url(#jg)"/>
<rect x="1119.5" y="1324.4" width="34" height="172.6" fill="url(#jg)"/>
<rect x="1186" y="1319.9" width="34" height="177.1" fill="url(#jg)"/>
<rect x="1252.5" y="1317.2" width="34" height="179.8" fill="url(#jg)"/>
<rect x="1319" y="1308.6" width="34" height="188.4" fill="url(#jg)"/>
<line x1="1040" y1="1497" x2="1370" y2="1497" stroke="#222" stroke-width="1.5"/>
<g font-size="13" text-anchor="middle">
<text x="1070" y="1329">86.6%</text><text x="1136.5" y="1320">91.33%</text><text x="1203" y="1316">93.68%</text><text x="1269.5" y="1313">95.16%</text><text x="1336" y="1304">99.69%</text>
</g>
<g class="t" text-anchor="middle">
<text x="1070" y="1519">1000</text><text x="1136.5" y="1519">2000</text><text x="1203" y="1519">3000</text><text x="1269.5" y="1519">4000</text><text x="1336" y="1519">5000</text>
</g>
<g class="t" text-anchor="end">
<text x="1022" y="1502">0</text><text x="1022" y="1464">20</text><text x="1022" y="1426">40</text><text x="1022" y="1389">60</text><text x="1022" y="1351">80</text><text x="1022" y="1313">100</text>
</g>
<text x="1203" y="1538" class="t" text-anchor="middle">Promoter Region</text>
<text x="1203" y="1559" class="t" text-anchor="middle">(bases upstream of TSS)</text>
<text transform="translate(983,1405) rotate(-90)" class="t" text-anchor="middle">Promoters Bound (%)</text>
</svg>
</body></html>
